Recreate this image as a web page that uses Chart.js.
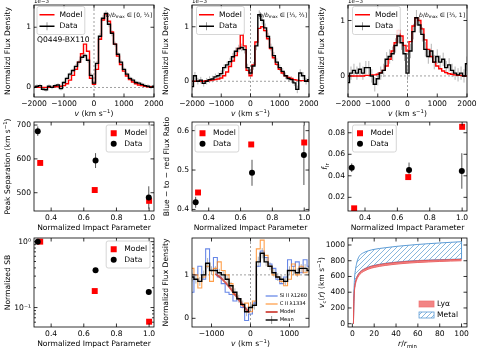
<!DOCTYPE html>
<html>
<head>
<meta charset="utf-8">
<script src="https://cdn.jsdelivr.net/npm/chart.js@4.4.1/dist/chart.umd.min.js"></script>
<style>
body { margin: 0; width: 479px; height: 352px; position: relative; overflow: hidden; background: #fff; }
canvas { position: absolute; }
</style>
</head>
<body>
<script>
// row 1 spectra, flux in units of 1e-3
const velocity = [-2000,-1900,-1800,-1700,-1600,-1500,-1400,-1300,-1200,-1100,-1000,-900,-800,-700,-600,-500,-400,-300,-200,-100,0,100,200,300,400,500,600,700,800,900,1000,1100,1200,1300,1400,1500,1600,1700,1800,1900,2000];

const innerData = [0.00,0.02,0.03,-0.03,-0.04,0.02,0.00,0.03,0.04,-0.02, 0.08,0.15,0.22,0.28,0.35,0.42,0.50,0.53,0.45,0.20, 0.07,0.40,0.85,1.15,1.23,1.05,0.90,0.72,0.55,0.42, 0.30,0.22,0.15,0.12,0.08,0.07,0.05,0.03,0.02,0.00,0.02];
const innerErr = [0.03,0.03,0.03,0.03,0.03,0.03,0.03,0.03,0.03,0.03, 0.03,0.03,0.03,0.03,0.04,0.04,0.04,0.04,0.04,0.04, 0.04,0.04,0.05,0.05,0.05,0.05,0.05,0.04,0.04,0.04, 0.03,0.03,0.03,0.03,0.03,0.03,0.03,0.03,0.03,0.03,0.03];
const innerModel = [0.00,0.00,0.00,0.00,0.00,0.00,0.00,0.01,0.01,0.02, 0.03,0.06,0.12,0.20,0.30,0.42,0.56,0.72,0.60,0.15, 0.05,0.30,0.80,1.12,1.22,1.10,0.92,0.72,0.52,0.38, 0.27,0.19,0.13,0.09,0.06,0.04,0.03,0.02,0.01,0.01,0.00];

const midData = [-0.10,0.10,0.00,0.02,-0.04,0.00,0.03,0.04,0.08,0.10, 0.14,0.25,0.30,0.36,0.45,0.55,0.60,0.62,0.58,0.25, 0.15,0.28,0.65,1.22,1.12,0.98,0.82,0.62,0.47,0.35, 0.25,0.18,0.10,0.05,0.03,-0.03,-0.15,0.15,0.10,0.00,0.03];
const midErr = [0.07,0.07,0.06,0.06,0.06,0.06,0.06,0.06,0.06,0.06, 0.06,0.06,0.06,0.07,0.07,0.07,0.07,0.07,0.07,0.07, 0.07,0.07,0.08,0.08,0.08,0.08,0.07,0.07,0.07,0.07, 0.06,0.06,0.06,0.06,0.06,0.06,0.07,0.07,0.07,0.06,0.06];
const midModel = [0.00,0.00,0.00,0.00,0.00,0.01,0.01,0.02,0.03,0.04, 0.06,0.10,0.17,0.27,0.37,0.47,0.60,0.85,0.65,0.20, 0.10,0.30,0.72,0.97,1.00,0.93,0.78,0.60,0.43,0.31, 0.22,0.15,0.10,0.07,0.05,0.03,0.02,0.01,0.01,0.00,0.00];

const outerData = [-0.12,0.05,0.10,0.05,0.12,0.05,0.15,0.15,0.00,-0.15, -0.05,0.05,0.10,0.30,0.35,0.40,0.55,0.72,0.60,0.40, 0.05,0.45,0.80,1.05,0.92,0.75,0.48,0.35,0.45,0.25, 0.35,0.25,0.30,0.15,0.20,0.10,0.05,0.02,0.05,0.00,0.22];
const outerErr = [0.13,0.12,0.12,0.12,0.12,0.12,0.12,0.12,0.12,0.13, 0.12,0.12,0.12,0.13,0.13,0.13,0.13,0.13,0.13,0.13, 0.13,0.13,0.14,0.14,0.14,0.13,0.13,0.13,0.13,0.13, 0.13,0.12,0.12,0.12,0.12,0.12,0.12,0.12,0.12,0.12,0.13];
const outerModel = [0.00,0.00,0.00,0.00,0.00,0.00,0.01,0.01,0.02,0.02, 0.03,0.06,0.10,0.18,0.30,0.45,0.60,0.82,0.72,0.55, 0.45,0.62,0.90,1.05,1.00,0.85,0.65,0.48,0.35,0.25, 0.18,0.13,0.09,0.06,0.04,0.03,0.02,0.01,0.01,0.00,0.00];

// rows 2-3, against normalized impact parameter
const impactData = [0.318, 0.672, 0.998];
const impactModel = [0.333, 0.667, 1.0];
const peakSepData = [682, 595, 486];
const peakSepErr = [14, 22, 33];
const peakSepModel = [588, 508, 476];
const ratioData = [0.418, 0.493, 0.538];
const ratioErr = [0.014, 0.033, 0.076];
const ratioModel = [0.443, 0.565, 0.570];
const flrData = [0.0475, 0.0455, 0.0445];
const flrErr = [0.004, 0.0068, 0.0165];
const flrModel = [0.0098, 0.0388, 0.0855];
const sbData = [1.0, 0.367, 0.172];
const sbModel = [1.0, 0.178, 0.061];

// metal absorption lines
const metalVel = [-1500,-1400,-1300,-1200,-1100,-1000,-900,-800,-700,-600,-500,-400,-300,-200,-100,0,100,200,300,400,500,600,700,800,900,1000,1100,1200,1300,1400,1500];
const siII = [0.60,1.00,1.20,0.90,1.60,1.10,1.40,0.95,0.80,0.60, 0.55,0.40,0.45,0.25,-0.05,0.10,0.35,1.20,1.55,1.40, 1.25,1.15,0.90,0.80,0.95,1.35,1.20,1.30,1.05,1.35,1.20];
const cII = [1.15,1.00,0.70,0.95,1.20,0.85,1.15,1.30,1.10,1.00, 0.80,0.55,0.45,0.30,0.35,0.15,0.40,1.60,1.80,1.45, 1.20,1.00,0.95,0.85,0.75,0.90,1.25,1.00,1.20,1.05,1.10];
const metalMean = [0.95,0.90,0.85,1.00,1.27,1.10,1.10,1.05,1.00,0.90, 0.75,0.60,0.45,0.32,0.15,0.25,0.30,1.30,1.50,1.30, 1.20,1.05,0.95,0.90,0.85,1.10,1.10,1.05,1.15,1.15,1.10];
const metalMeanErr = [0.10,0.10,0.10,0.10,0.12,0.10,0.10,0.09,0.09,0.09, 0.09,0.09,0.09,0.09,0.10,0.10,0.10,0.12,0.12,0.10, 0.09,0.09,0.09,0.09,0.09,0.10,0.10,0.10,0.10,0.10,0.10];
const metalModelVel = [-900,-800,-700,-600,-500,-400,-300,-200,-100,-30];
const metalModel = [1.02,0.96,0.88,0.78,0.67,0.55,0.43,0.31,0.20,0.13];

// circular velocity profiles
const radius = [1, 1.3, 1.7, 2, 3, 4, 5, 7, 10, 15, 20, 30, 40, 50, 60, 70, 80, 90, 100];
const metalHigh = [0, 320, 500, 580, 700, 770, 820, 870, 900, 928, 945, 965, 982, 995, 1007, 1017, 1026, 1034, 1042];
const metalLow = [0, 260, 400, 460, 545, 590, 620, 660, 690, 722, 742, 767, 783, 795, 803, 809, 814, 818, 822];
const lyaHigh = [0, 255, 395, 455, 540, 585, 615, 655, 686, 718, 738, 763, 779, 791, 799, 805, 810, 814, 818];
const lyaLow = [0, 235, 370, 430, 515, 560, 590, 630, 662, 695, 715, 740, 757, 769, 778, 785, 791, 796, 800];

// ticks
const specTicksX = [-2000, -1000, 0, 1000, 2000];
const specTicksY = [0, 1];
const impactTicks = [0.4, 0.6, 0.8, 1.0];
const peakSepTicks = [500, 600, 700];
const ratioTicks = [0.4, 0.5, 0.6];
const flrTicks = [0.02, 0.04, 0.06, 0.08];
const sbTicks = [0.1, 1];
const sbMinor = [0.06, 0.07, 0.08, 0.09, 0.2, 0.3, 0.4, 0.5, 0.6, 0.7, 0.8, 0.9];
const metalTicksX = [-1000, 0, 1000];
const metalTicksY = [0, 1];
const radiusTicks = [0, 20, 40, 60, 80, 100];
const vcTicks = [0, 200, 400, 600, 800, 1000];

const FONT = '"DejaVu Sans", sans-serif';
const FS = 7.6;
const PAD_L = 34, PAD_R = 14, PAD_B = 26;

const pts = (xs, ys) => xs.map((x, i) => ({ x: x, y: ys[i] }));
const minus = v => String(v).replace('-', '\u2212');
const segsOf = s => typeof s === 'string' ? [{ t: s }] : s;

function fontFor(s, size) {
  const fs = (s.sub || s.sup) ? size * 0.7 : size;
  return [(s.it ? 'italic ' : '') + fs + 'px ' + FONT, fs];
}
function measureRich(ctx, segs, size) {
  return segsOf(segs).reduce((a, s) => { ctx.font = fontFor(s, size)[0]; return a + ctx.measureText(s.t).width; }, 0);
}
function drawRich(ctx, segs, x, y, size, align) {
  const total = measureRich(ctx, segs, size);
  let cx = align === 'center' ? x - total / 2 : align === 'right' ? x - total : x;
  ctx.textAlign = 'left'; ctx.textBaseline = 'middle'; ctx.fillStyle = '#000';
  segsOf(segs).forEach(s => {
    ctx.font = fontFor(s, size)[0];
    const dy = s.sub ? size * 0.3 : s.sup ? -size * 0.35 : 0;
    ctx.fillText(s.t, cx, y + dy);
    cx += ctx.measureText(s.t).width;
  });
}
function seg(ctx, x1, y1, x2, y2) { ctx.beginPath(); ctx.moveTo(x1, y1); ctx.lineTo(x2, y2); ctx.stroke(); }

function makeHatch(color) {
  const c = document.createElement('canvas'); c.width = 5; c.height = 5;
  const g = c.getContext('2d');
  g.strokeStyle = color; g.lineWidth = 0.8;
  g.beginPath(); g.moveTo(0, 5); g.lineTo(5, 0); g.moveTo(-1, 1); g.lineTo(1, -1); g.moveTo(4, 6); g.lineTo(6, 4); g.stroke();
  return g.createPattern(c, 'repeat');
}
const hatch = makeHatch('#6aa6d6');

function drawLegend(ctx, ca, L) {
  const fs = L.size || FS, pad = L.pad == null ? 3 : L.pad, hl = L.handle || 15, gap = L.gap || 5, rh = L.row || fs * 1.5;
  const tw = Math.max(...L.items.map(it => measureRich(ctx, it.label, fs)));
  const w = pad * 2 + hl + gap + tw, h = pad * 2 + rh * L.items.length;
  const bx = L.anchor[1] === 'l' ? ca.left + L.dx : ca.right - L.dx - w;
  const by = L.anchor[0] === 't' ? ca.top + L.dy : ca.bottom - L.dy - h;
  if (L.frame) {
    ctx.beginPath();
    if (ctx.roundRect) ctx.roundRect(bx, by, w, h, 2); else ctx.rect(bx, by, w, h);
    ctx.fillStyle = 'rgba(255,255,255,0.85)'; ctx.fill();
    ctx.strokeStyle = '#cccccc'; ctx.lineWidth = 0.8; ctx.stroke();
  }
  L.items.forEach((it, i) => {
    const cy = by + pad + rh * (i + 0.5), hx = bx + pad, mx = hx + hl / 2;
    ctx.setLineDash([]);
    if (it.kind === 'line' || it.kind === 'errline') {
      if (it.kind === 'errline') { ctx.strokeStyle = '#999'; ctx.lineWidth = 1; seg(ctx, mx, cy - 4, mx, cy + 4); }
      ctx.strokeStyle = it.color; ctx.lineWidth = it.width || 1.5; seg(ctx, hx, cy, hx + hl, cy);
    } else if (it.kind === 'rect') {
      ctx.fillStyle = it.color; ctx.fillRect(mx - 3, cy - 3, 6, 6);
    } else if (it.kind === 'circle') {
      ctx.fillStyle = it.color; ctx.beginPath(); ctx.arc(mx, cy, 3, 0, Math.PI * 2); ctx.fill();
    } else if (it.kind === 'patch' || it.kind === 'hatch') {
      ctx.fillStyle = it.kind === 'hatch' ? hatch : it.color;
      ctx.fillRect(hx, cy - 3, hl, 6);
      ctx.strokeStyle = it.edge; ctx.lineWidth = 0.8; ctx.strokeRect(hx, cy - 3, hl, 6);
    }
    drawRich(ctx, it.label, hx + hl + gap, cy, fs, 'left');
  });
}

function decor(o) {
  return {
    id: 'decor',
    beforeDatasetsDraw(chart) {
      const ctx = chart.ctx, ca = chart.chartArea, x = chart.scales.x, y = chart.scales.y;
      ctx.save();
      ctx.beginPath(); ctx.rect(ca.left, ca.top, ca.right - ca.left, ca.bottom - ca.top); ctx.clip();
      ctx.setLineDash([2, 2]); ctx.strokeStyle = '#888'; ctx.lineWidth = 0.8;
      (o.refX || []).forEach(v => { const p = x.getPixelForValue(v); seg(ctx, p, ca.top, p, ca.bottom); });
      (o.refY || []).forEach(v => { const p = y.getPixelForValue(v); seg(ctx, ca.left, p, ca.right, p); });
      ctx.setLineDash([]);
      (o.errors || []).forEach(e => {
        ctx.strokeStyle = e.color; ctx.lineWidth = e.width || 1;
        chart.data.datasets[e.ds].data.forEach((pt, i) => {
          const px = x.getPixelForValue(pt.x);
          seg(ctx, px, y.getPixelForValue(pt.y - e.err[i]), px, y.getPixelForValue(pt.y + e.err[i]));
        });
      });
      ctx.restore();
    },
    afterDatasetsDraw(chart) {
      const ctx = chart.ctx, ca = chart.chartArea, x = chart.scales.x, y = chart.scales.y;
      ctx.save();
      ctx.strokeStyle = '#000'; ctx.lineWidth = 0.8; ctx.setLineDash([]);
      o.xTicks.forEach(v => { const p = x.getPixelForValue(v); seg(ctx, p, ca.bottom, p, ca.bottom - 3.5); seg(ctx, p, ca.top, p, ca.top + 3.5); });
      o.yTicks.forEach(v => { const p = y.getPixelForValue(v); seg(ctx, ca.left, p, ca.left + 3.5, p); seg(ctx, ca.right, p, ca.right - 3.5, p); });
      (o.yMinor || []).forEach(v => { const p = y.getPixelForValue(v); seg(ctx, ca.left, p, ca.left + 2, p); seg(ctx, ca.right, p, ca.right - 2, p); });
      ctx.strokeRect(ca.left, ca.top, ca.right - ca.left, ca.bottom - ca.top);
      drawRich(ctx, o.xTitle, (ca.left + ca.right) / 2, ca.bottom + 17.5, FS, 'center');
      ctx.save();
      ctx.translate(ca.left - (o.yTitleDx || 26), (ca.top + ca.bottom) / 2);
      ctx.rotate(-Math.PI / 2);
      drawRich(ctx, o.yTitle, 0, 0, FS, 'center');
      ctx.restore();
      if (o.legend) drawLegend(ctx, ca, o.legend);
      (o.notes || []).forEach(n => drawRich(ctx, n.segs, n.px - o.offX, n.py - o.offY, n.size || FS, n.align || 'left'));
      ctx.restore();
    }
  };
}

function panel(box, o) {
  const padT = Math.min(box.t, 8);
  const W = box.r - box.l + PAD_L + PAD_R, H = box.b - box.t + padT + PAD_B;
  const cv = document.createElement('canvas');
  cv.width = W; cv.height = H;
  cv.style.left = (box.l - PAD_L) + 'px'; cv.style.top = (box.t - padT) + 'px';
  cv.style.width = W + 'px'; cv.style.height = H + 'px';
  document.body.appendChild(cv);
  o.offX = box.l - PAD_L; o.offY = box.t - padT;
  const axis = (type, range, ticks, fmt, isX) => ({
    type: type, min: range[0], max: range[1], bounds: 'data',
    grid: { display: false, drawTicks: false }, border: { display: false },
    ticks: { font: { family: FONT, size: FS }, color: '#000', padding: isX ? 2.5 : 3, maxRotation: 0, autoSkip: false, callback: fmt },
    afterBuildTicks: s => { s.ticks = ticks.map(v => ({ value: v })); },
    afterFit: s => {
      if (isX) s.height = PAD_B; else s.width = PAD_L;
      s.paddingLeft = 0; s.paddingRight = 0; s.paddingTop = 0; s.paddingBottom = 0;
    }
  });
  new Chart(cv, {
    type: 'line',
    data: { datasets: o.datasets },
    options: {
      responsive: false, animation: false, devicePixelRatio: 1,
      layout: { padding: { left: 0, right: PAD_R, top: padT, bottom: 0 } },
      plugins: { legend: { display: false }, tooltip: { enabled: false } },
      elements: { point: { radius: 0 }, line: { tension: 0 } },
      scales: {
        x: axis('linear', o.xRange, o.xTicks, o.xFmt, true),
        y: axis(o.yType || 'linear', o.yRange, o.yTicks, o.yFmt, false)
      }
    },
    plugins: [decor(o)]
  });
}

const rows = [{ t: 5, b: 97 }, { t: 122, b: 211 }, { t: 238, b: 327 }];
const cols = [{ l: 34, r: 154 }, { l: 192, r: 309 }, { l: 348, r: 467 }];
const cell = (i, j) => ({ l: cols[j].l, r: cols[j].r, t: rows[i].t, b: rows[i].b });

const velTitle = [{ t: 'v', it: true }, { t: ' (km s' }, { t: '\u22121', sup: true }, { t: ')' }];
const impactTitle = 'Normalized Impact Parameter';
const fluxTitle = 'Normalizd Flux Density';
const bRange = r => [{ t: 'b', it: true }, { t: '/' }, { t: 'b', it: true }, { t: 'max', sub: true }, { t: ' \u2208 [' + r + ']' }];
const specLegend = dx => ({ anchor: 'tl', dx: dx, dy: 1.5, frame: true, pad: 2.5, row: 11.5, handle: 15, gap: 5,
  items: [{ label: 'Model', kind: 'line', color: '#ff0000' }, { label: 'Data', kind: 'errline', color: '#000' }] });
const dotLegend = (anchor, dx) => ({ anchor: anchor, dx: dx, dy: 3, frame: true, pad: 3, row: 10.5, handle: 9, gap: 6,
  items: [{ label: 'Model', kind: 'rect', color: '#ff0000' }, { label: 'Data', kind: 'circle', color: '#000' }] });

function specSets(data, err, model) {
  return [
    { data: pts(velocity, data), borderColor: '#000', borderWidth: 1.4, stepped: 'middle' },
    { data: pts(velocity, model), borderColor: '#ff0000', borderWidth: 1.4, stepped: 'middle' }
  ];
}
function dotSets(data, model) {
  return [
    { data: pts(impactData, data), showLine: false, pointStyle: 'circle', pointRadius: 3, pointBorderWidth: 0, pointBackgroundColor: '#000' },
    { data: pts(impactModel, model), showLine: false, pointStyle: 'rect', pointRadius: 4.2, pointBorderWidth: 0, pointBackgroundColor: '#ff0000' }
  ];
}

const specPanels = [
  { data: innerData, err: innerErr, model: innerModel, y: [-0.16, 1.37], r: '0, \u2153', lx: 3 },
  { data: midData, err: midErr, model: midModel, y: [-0.29, 1.40], r: '\u2153, \u2154', lx: 4.5 },
  { data: outerData, err: outerErr, model: outerModel, y: [-0.38, 1.28], r: '\u2154, 1', lx: 4.5 }
];
specPanels.forEach((p, j) => {
  const notes = [
    { segs: '1e\u22123', px: cols[j].l, py: 2, size: 5.5 },
    { segs: bRange(p.r), px: cols[j].r - 2, py: 15, size: 6, align: 'right' }
  ];
  if (j === 0) notes.push({ segs: 'Q0449-BX110', px: 37, py: 40 });
  panel(cell(0, j), {
    datasets: specSets(p.data, p.err, p.model),
    errors: [{ ds: 0, err: p.err, color: 'rgba(150,150,150,0.7)', width: 1 }],
    xRange: [-2000, 2000], yRange: p.y, xTicks: specTicksX, yTicks: specTicksY, xFmt: minus, yFmt: minus,
    refX: [0], refY: [0], xTitle: velTitle, yTitle: fluxTitle, legend: specLegend(p.lx), notes: notes
  });
});

const impactRange = [0.295, 1.03];
panel(cell(1, 0), {
  datasets: dotSets(peakSepData, peakSepModel),
  errors: [{ ds: 0, err: peakSepErr, color: '#555' }],
  xRange: impactRange, yRange: [446, 709], xTicks: impactTicks, yTicks: peakSepTicks,
  xFmt: v => v.toFixed(1), yFmt: v => String(v),
  xTitle: impactTitle, yTitle: [{ t: 'Peak Separation (km s' }, { t: '\u22121', sup: true }, { t: ')' }],
  legend: dotLegend('tr', 4)
});
panel(cell(1, 1), {
  datasets: dotSets(ratioData, ratioModel),
  errors: [{ ds: 0, err: ratioErr, color: '#555' }],
  xRange: impactRange, yRange: [0.396, 0.622], xTicks: impactTicks, yTicks: ratioTicks,
  xFmt: v => v.toFixed(1), yFmt: v => v.toFixed(1),
  xTitle: impactTitle, yTitle: 'Blue \u2212 to \u2212 red Flux Ratio', yTitleDx: 25,
  legend: dotLegend('tl', 3)
});
panel(cell(1, 2), {
  datasets: dotSets(flrData, flrModel),
  errors: [{ ds: 0, err: flrErr, color: '#555' }],
  xRange: impactRange, yRange: [0.0073, 0.09], xTicks: impactTicks, yTicks: flrTicks,
  xFmt: v => v.toFixed(1), yFmt: v => v.toFixed(2),
  xTitle: impactTitle, yTitle: [{ t: 'f', it: true }, { t: 'lr', sub: true }], yTitleDx: 23,
  legend: dotLegend('tl', 4.5)
});

panel(cell(2, 0), {
  datasets: dotSets(sbData, sbModel),
  xRange: impactRange, yType: 'logarithmic', yRange: [0.0507, 1.136], xTicks: impactTicks, yTicks: sbTicks, yMinor: sbMinor,
  xFmt: v => v.toFixed(1), yFmt: v => v === 1 ? '10\u2070' : '10\u207b\u00b9',
  xTitle: impactTitle, yTitle: 'Normalized SB',
  legend: dotLegend('tr', 4)
});
panel(cell(2, 1), {
  datasets: [
    { data: pts(metalVel, metalMean), borderColor: '#000', borderWidth: 1.4, stepped: 'middle' },
    { data: pts(metalModelVel, metalModel), borderColor: 'rgba(205,60,50,0.85)', borderWidth: 2, cubicInterpolationMode: 'monotone' },
    { data: pts(metalVel, cII), borderColor: 'rgba(255,127,14,0.75)', borderWidth: 1.1, stepped: 'middle' },
    { data: pts(metalVel, siII), borderColor: 'rgba(65,105,225,0.8)', borderWidth: 1.1, stepped: 'middle' }
  ],
  errors: [{ ds: 0, err: metalMeanErr, color: 'rgba(150,150,150,0.7)', width: 1 }],
  xRange: [-1500, 1500], yRange: [-0.2, 1.85], xTicks: metalTicksX, yTicks: metalTicksY, xFmt: minus, yFmt: minus,
  refX: [0], refY: [1], xTitle: velTitle, yTitle: fluxTitle,
  legend: { anchor: 'br', dx: 2, dy: 3, frame: false, pad: 0, row: 8, handle: 12, gap: 2, size: 5.2,
    items: [
      { label: 'Si II \u03bb1260', kind: 'line', color: 'rgba(65,105,225,0.85)', width: 1.2 },
      { label: 'C II \u03bb1334', kind: 'line', color: 'rgba(255,127,14,0.8)', width: 1.2 },
      { label: 'Model', kind: 'line', color: 'rgba(205,60,50,0.85)', width: 2 },
      { label: 'Mean', kind: 'errline', color: '#000', width: 1.4 }
    ] }
});
panel(cell(2, 2), {
  datasets: [
    { data: pts(radius, lyaHigh), borderColor: 'rgba(230,80,80,0.9)', borderWidth: 1, fill: '+1', backgroundColor: 'rgba(240,110,110,0.85)', cubicInterpolationMode: 'monotone' },
    { data: pts(radius, lyaLow), borderColor: 'rgba(230,80,80,0.9)', borderWidth: 1, cubicInterpolationMode: 'monotone' },
    { data: pts(radius, metalHigh), borderColor: '#5b9bd5', borderWidth: 1, fill: '+1', backgroundColor: hatch, cubicInterpolationMode: 'monotone' },
    { data: pts(radius, metalLow), borderColor: '#5b9bd5', borderWidth: 1, cubicInterpolationMode: 'monotone' },
    { data: pts([radius[radius.length - 1], radius[radius.length - 1]], [metalLow[metalLow.length - 1], metalHigh[metalHigh.length - 1]]), borderColor: '#5b9bd5', borderWidth: 1 }
  ],
  xRange: [-4, 105], yRange: [-42, 1089], xTicks: radiusTicks, yTicks: vcTicks, xFmt: v => String(v), yFmt: v => String(v),
  xTitle: [{ t: 'r', it: true }, { t: '/' }, { t: 'r', it: true }, { t: 'min', sub: true }],
  yTitle: [{ t: 'v', it: true }, { t: 'c', sub: true }, { t: '(' }, { t: 'r', it: true }, { t: ') (km s' }, { t: '\u22121', sup: true }, { t: ')' }],
  legend: { anchor: 'br', dx: 9, dy: 6.5, frame: false, pad: 0, row: 11, handle: 15, gap: 3,
    items: [
      { label: 'Ly\u03b1', kind: 'patch', color: 'rgba(240,110,110,0.85)', edge: 'rgba(240,110,110,0.85)' },
      { label: 'Metal', kind: 'hatch', edge: '#5b9bd5' }
    ] }
});
</script>
</body>
</html>
